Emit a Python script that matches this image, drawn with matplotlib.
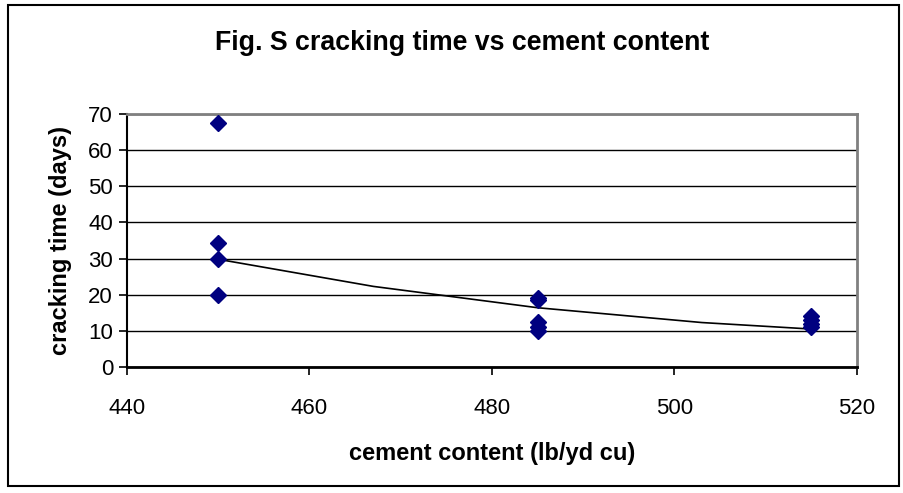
import numpy as np
import matplotlib
matplotlib.use('Agg')
import matplotlib.pyplot as plt
from matplotlib.patches import Rectangle

# Data
cement = [450, 450, 450, 450, 485, 485, 485, 485, 485, 515, 515, 515, 515]
crack_days = [67.5, 34.3, 30, 20, 19, 18.5, 12.5, 11, 10, 14.2, 13, 12, 11]
# trendline (curved, Excel-style)
trend_x = [450, 467, 485, 503, 515]
trend_y = [29.8, 22.3, 16.4, 12.3, 10.5]

x_ticks = [440, 460, 480, 500, 520]
y_ticks = [0, 10, 20, 30, 40, 50, 60, 70]

plt.rcParams['font.family'] = ['Liberation Sans', 'DejaVu Sans']

W, H = 904, 493
fig = plt.figure(figsize=(W / 100, H / 100), dpi=100)
fig.patch.set_facecolor('white')

# outer chart border
fig.patches.append(Rectangle((8 / W, 1 - 486 / H), (899 - 8) / W, (486 - 5) / H,
                             transform=fig.transFigure, fill=False,
                             edgecolor='black', linewidth=1.5))

ax = fig.add_axes([127 / W, 1 - 367 / H, (857 - 127) / W, (367 - 114) / H])
ax.set_xlim(440, 520)
ax.set_ylim(0, 70)
ax.set_xticks(x_ticks)
ax.set_yticks(y_ticks)
ax.tick_params(labelsize=16, color='black')
ax.tick_params(axis='x', length=6, width=1.2, pad=16)
ax.tick_params(axis='y', length=6, width=1.2, pad=4)

ax.yaxis.grid(True, color='black', linewidth=1.0)
ax.set_axisbelow(True)

for side in ['top', 'right']:
    ax.spines[side].set_color('#808080')
    ax.spines[side].set_linewidth(2)
ax.spines['left'].set_color('black')
ax.spines['left'].set_linewidth(1.5)
ax.spines['bottom'].set_color('black')
ax.spines['bottom'].set_linewidth(2)

ax.plot(trend_x, trend_y, color='black', linewidth=1.2, zorder=2)
ax.plot(cement, crack_days, linestyle='none', marker='D', markersize=8,
        color='#000080', zorder=3)

ax.set_xlabel('cement content (lb/yd cu)', fontsize=17, fontweight='bold', labelpad=17)
ax.set_ylabel('cracking time (days)', fontsize=17, fontweight='bold', labelpad=12)
fig.text(462 / W, 1 - 43 / H, 'Fig. S cracking time vs cement content',
         ha='center', va='center', fontsize=19.3, fontweight='bold')

fig.savefig('out.png', dpi=100)
